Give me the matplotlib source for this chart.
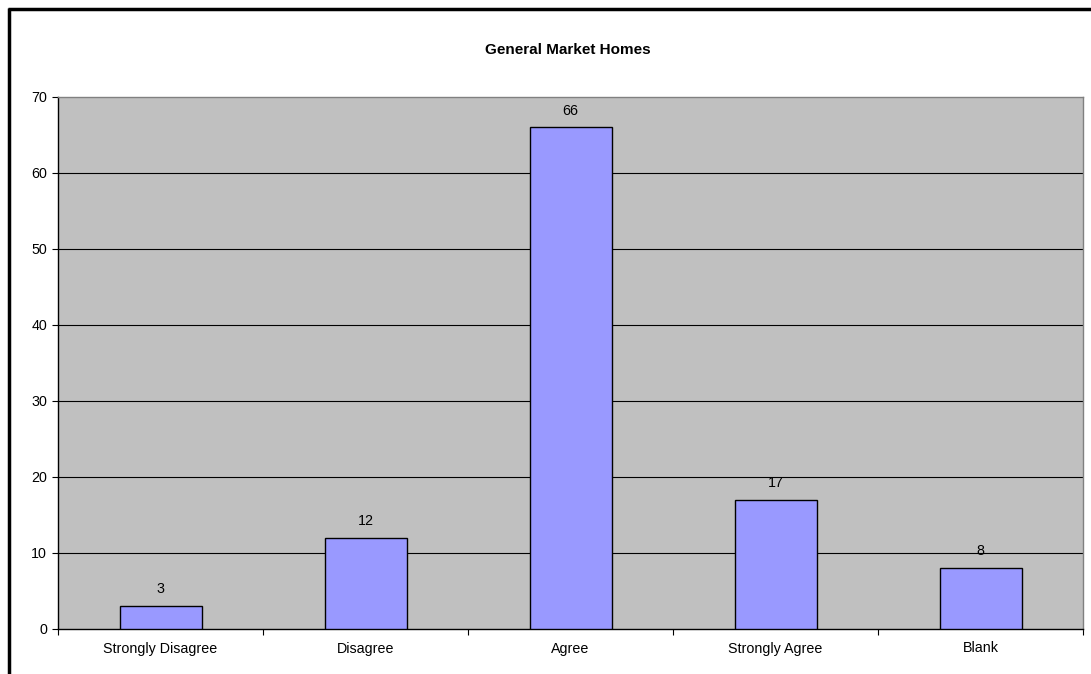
import matplotlib
matplotlib.use("Agg")
import matplotlib.pyplot as plt
from matplotlib.lines import Line2D
import numpy as np

plt.rcParams['font.family'] = ['Liberation Sans', 'DejaVu Sans']

categories = ["Strongly Disagree", "Disagree", "Agree", "Strongly Agree", "Blank"]
values = [3, 12, 66, 17, 8]
yticks = [0, 10, 20, 30, 40, 50, 60, 70]
title = "General Market Homes"

W, H = 1091, 674
fig = plt.figure(figsize=(W / 100, H / 100), dpi=100)
ax = fig.add_axes([58 / W, (H - 629) / H, 1025 / W, 532 / H])
ax.set_facecolor("#C0C0C0")

x = np.arange(len(categories))
ax.bar(x, values, width=0.4, color="#9999FF", edgecolor="black", linewidth=1.0, zorder=3)
for xi, v in zip(x, values):
    ax.annotate(str(v), (xi, v), xytext=(0, 7), textcoords="offset points",
                ha="center", va="bottom", fontsize=10.3, zorder=4)

ax.set_xlim(-0.5, len(categories) - 0.5)
ax.set_ylim(0, 70)
ax.set_yticks(yticks)
ax.set_yticklabels([str(t) for t in yticks], fontsize=10.3)
ax.set_xticks(x)
ax.set_xticklabels(categories, fontsize=10.3)
ax.tick_params(axis="x", which="major", length=0, pad=9)
ax.set_xticks(np.arange(-0.5, len(categories), 1.0), minor=True)
ax.tick_params(axis="x", which="minor", length=4, width=0.8, direction="out")
ax.tick_params(axis="y", length=4, width=0.8, direction="out", pad=4)

for t in yticks[1:-1]:
    ax.axhline(t, color="black", linewidth=0.8, zorder=1)

ax.spines["left"].set_color("black")
ax.spines["bottom"].set_color("black")
ax.spines["top"].set_color("#808080")
ax.spines["right"].set_color("#808080")
for s in ax.spines.values():
    s.set_linewidth(1.0)

fig.text(568 / W, 1 - 50 / H, title, ha="center", va="center", fontsize=11, fontweight="bold")

# outer chart border (left and top visible)
fig.add_artist(Line2D([9 / W, 9 / W], [1 - 7.5 / H, 0], transform=fig.transFigure, color="black",
                      linewidth=2.5, solid_capstyle="butt"))
fig.add_artist(Line2D([7.5 / W, 1], [1 - 9 / H, 1 - 9 / H], transform=fig.transFigure, color="black",
                      linewidth=2.5, solid_capstyle="butt"))

fig.savefig("out.png", dpi=100)
